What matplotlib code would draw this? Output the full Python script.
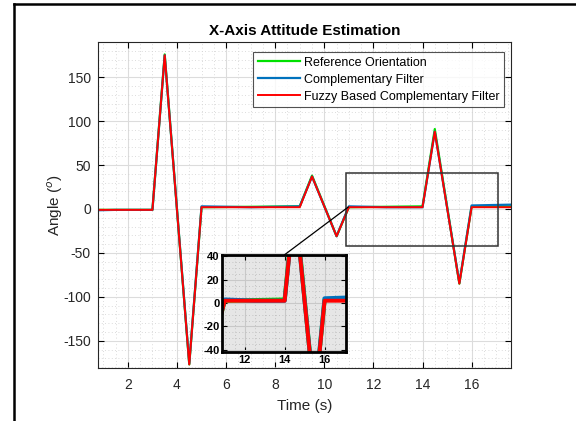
import matplotlib
matplotlib.use('Agg')
import matplotlib.pyplot as plt
from matplotlib.patches import Rectangle, ConnectionPatch
from matplotlib.ticker import MultipleLocator
from matplotlib.lines import Line2D

plt.rcParams['font.family'] = ['Liberation Sans', 'DejaVu Sans']
plt.rcParams['axes.unicode_minus'] = False

# breakpoints of each series (time in s, angle in degrees)
t_ref = [0.0, 3.0, 3.5, 4.5, 5.0, 9.0, 9.5, 10.5, 11.0, 14.0, 14.5, 15.5, 16.0, 17.7]
ang_ref = [-1, -1, 176, -177, 2, 3, 38, -31, 2, 3, 91, -85, 3, 3]

t_cf = [0.0, 1.5, 3.0, 3.5, 4.5, 5.0, 7.0, 9.0, 9.5, 10.5, 11.0, 12.5, 14.0, 14.5, 15.5, 16.0, 17.7]
ang_cf = [-2, -1, -1, 175, -176, 3, 2, 3, 37, -31, 3, 2, 2, 88, -84, 4, 5]

t_fz = [0.0, 3.0, 3.5, 4.5, 5.0, 9.0, 9.5, 10.5, 11.0, 14.0, 14.5, 15.5, 16.0, 17.7]
ang_fz = [-1, -1, 175, -177, 2, 2, 37, -31, 2, 2, 88, -85, 2, 2]

labels = ['Reference Orientation', 'Complementary Filter', 'Fuzzy Based Complementary Filter']
colors = ['#00e000', '#0072BD', '#ff0000']

zoom_x = (10.88, 17.08)
zoom_y = (-42, 41.5)

fig = plt.figure(figsize=(5.76, 4.21), dpi=100)
ax = fig.add_axes([0.170, 0.126, 0.717, 0.774])

ax.plot(t_ref, ang_ref, color=colors[0], lw=1.6, label=labels[0])
ax.plot(t_cf, ang_cf, color=colors[1], lw=1.6, label=labels[1])
ax.plot(t_fz, ang_fz, color=colors[2], lw=1.4, label=labels[2])

ax.set_xlim(0.78, 17.6)
ax.set_ylim(-181, 190)
ax.xaxis.set_major_locator(MultipleLocator(2))
ax.xaxis.set_minor_locator(MultipleLocator(0.5))
ax.yaxis.set_major_locator(MultipleLocator(50))
ax.yaxis.set_minor_locator(MultipleLocator(10))
ax.grid(which='major', color='#dcdcdc', lw=0.8)
ax.grid(which='minor', color='#d0d0d0', lw=0.6, ls=(0, (1, 3)))
ax.tick_params(which='both', direction='in', top=True, right=True, labelsize=10, colors='#262626')
ax.tick_params(axis='x', pad=7)
ax.tick_params(axis='y', pad=5)
ax.tick_params(which='minor', length=0)
ax.tick_params(which='major', length=4, color='black')
for s in ax.spines.values():
    s.set_color('#262626')
    s.set_linewidth(0.8)

ax.set_title('X-Axis Attitude Estimation', fontsize=11, fontweight='bold', pad=5)
ax.set_xlabel('Time (s)', fontsize=11, color='#262626', labelpad=5)
ax.set_ylabel('Angle ($^{o}$)', fontsize=11, color='#262626', labelpad=-1)

leg = ax.legend(loc='upper right', fontsize=9, frameon=True, fancybox=False,
                edgecolor='#262626', handlelength=3.4, handletextpad=0.3,
                borderpad=0.35, labelspacing=0.4, bbox_to_anchor=(0.998, 0.988))
leg.get_frame().set_linewidth(0.8)

# zoom rectangle on main axes
ax.add_patch(Rectangle((zoom_x[0], zoom_y[0]), zoom_x[1] - zoom_x[0], zoom_y[1] - zoom_y[0],
                       fill=False, edgecolor='#333333', lw=1.1, zorder=5))

# inset axes
axin = fig.add_axes([0.386, 0.164, 0.215, 0.231])
axin.set_facecolor('#e6e6e6')
axin.plot(t_ref, ang_ref, color=colors[0], lw=3.0)
axin.plot(t_cf, ang_cf, color=colors[1], lw=3.0)
axin.plot(t_fz, ang_fz, color=colors[2], lw=2.8)
axin.set_xlim(zoom_x)
axin.set_ylim(zoom_y)
axin.xaxis.set_major_locator(MultipleLocator(2))
axin.xaxis.set_minor_locator(MultipleLocator(0.5))
axin.yaxis.set_major_locator(MultipleLocator(20))
axin.yaxis.set_minor_locator(MultipleLocator(5))
axin.grid(which='major', color='#c8c8c8', lw=0.8)
axin.grid(which='minor', color='#b8b8b8', lw=0.6, ls=(0, (1, 3)))
axin.tick_params(which='both', direction='in', top=True, right=True, labelsize=8, pad=2)
axin.tick_params(which='minor', length=0)
for lab in axin.get_xticklabels() + axin.get_yticklabels():
    lab.set_fontweight('bold')
for s in axin.spines.values():
    s.set_color('black')
    s.set_linewidth(2)

con = ConnectionPatch(xyA=(14.0, zoom_y[1]), coordsA=axin.transData,
                      xyB=(10.98, 2.3), coordsB=ax.transData,
                      color='black', lw=0.9, zorder=6)
fig.add_artist(con)

# figure frame lines (left and top)
fig.add_artist(Line2D([0.0243, 0.0243], [0.0, 0.990], transform=fig.transFigure, color='black', lw=1.8))
fig.add_artist(Line2D([0.0243, 1.0], [0.990, 0.990], transform=fig.transFigure, color='black', lw=1.8))

fig.savefig('out.png', dpi=100)
